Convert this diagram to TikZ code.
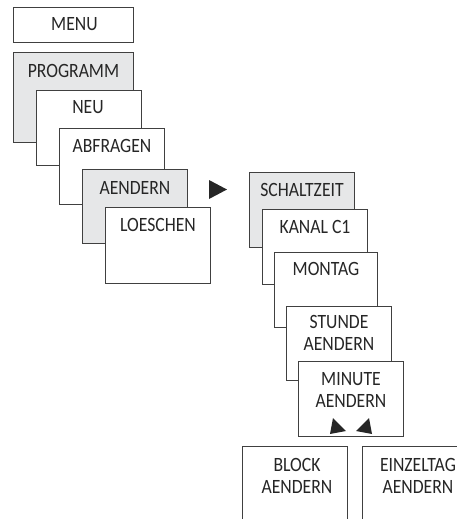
\documentclass[tikz,border=0pt]{standalone}
\usepackage{fontspec}
\setmainfont[FakeStretch=0.87]{Carlito}
\usetikzlibrary{calc}
\definecolor{boxgray}{HTML}{E6E7E8}
\definecolor{linec}{HTML}{404040}
\definecolor{textc}{HTML}{262626}
\tikzset{
  mbox/.style={draw=linec, line width=0.95pt, fill=white, rectangle, inner sep=0pt, anchor=north west,
    minimum width=105pt, minimum height=75pt},
  gbox/.style={mbox, fill=boxgray},
  lbl/.style={anchor=north, inner sep=0pt, text=textc, align=center,
    font=\fontsize{20.3}{22}\selectfont},
  tri/.style={fill=textc, draw=none}
}
\begin{document}
\begin{tikzpicture}[x=1pt,y=-1pt]
\useasboundingbox (0,0) rectangle (457,519);
\clip (0,0) rectangle (457,519);
% left column
\node[mbox, minimum width=120pt, minimum height=35pt] (menu) at (13,7) {};
\node[lbl] (tmenu) at ($(menu.north)+(1,10)$) {MENU};
\node[gbox, minimum width=120pt, minimum height=90pt] (prog) at (13,52) {};
\node[lbl] (tprog) at ($(prog.north)+(0,12)$) {PROGRAMM};
\node[mbox] (neu) at (36,90) {};
\node[lbl] (tneu) at ($(neu.north)+(-1,10)$) {NEU};
\node[mbox, minimum height=76pt] (abf) at (59,128) {};
\node[lbl] (tabf) at ($(abf.north)+(0,11)$) {ABFRAGEN};
\node[gbox, minimum height=74pt] (aend) at (82,169) {};
\node[lbl] (taend) at ($(aend.north)+(0,12)$) {AENDERN};
\node[mbox, minimum height=76pt] (loe) at (105,207) {};
\node[lbl] (tloe) at ($(loe.north)+(0,11)$) {LOESCHEN};
% arrow
\coordinate (a1) at (209,180);
\coordinate (a2) at (227,189.5);
\coordinate (a3) at (209,199);
\fill[textc] (a1) -- (a2) -- (a3) -- cycle;
% right column
\node[gbox] (sch) at (249,172) {};
\node[lbl] (tsch) at ($(sch.north)+(0,11)$) {SCHALTZEIT};
\node[mbox] (kan) at (262,209) {};
\node[lbl] (tkan) at ($(kan.north)+(0,11)$) {KANAL C1};
\node[mbox, minimum width=103pt] (mon) at (274,252) {};
\node[lbl] (tmon) at ($(mon.north)+(0,10)$) {MONTAG};
\node[mbox, minimum height=74pt] (std) at (286,306) {};
\node[lbl] (tstd) at ($(std.north)+(0,9)$) {STUNDE\\AENDERN};
\node[mbox] (min) at (298,361) {};
\node[lbl] (tmin) at ($(min.north)+(0,11)$) {MINUTE\\AENDERN};
% small arrows
\coordinate (b1) at (333,418);
\coordinate (b2) at (346,431);
\coordinate (b3) at (330,434);
\fill[textc] (b1) -- (b2) -- (b3) -- cycle;
\coordinate (c1) at (369,418);
\coordinate (c2) at (356,431);
\coordinate (c3) at (372,434);
\fill[textc] (c1) -- (c2) -- (c3) -- cycle;
% bottom
\node[mbox, minimum height=90pt] (blk) at (242,446) {};
\node[lbl] (tblk) at ($(blk.north)+(2,12)$) {BLOCK\\AENDERN};
\node[mbox, minimum height=90pt] (ein) at (362,446) {};
\node[lbl] (tein) at ($(ein.north)+(3,12)$) {EINZELTAG\\AENDERN};
\end{tikzpicture}
\end{document}
